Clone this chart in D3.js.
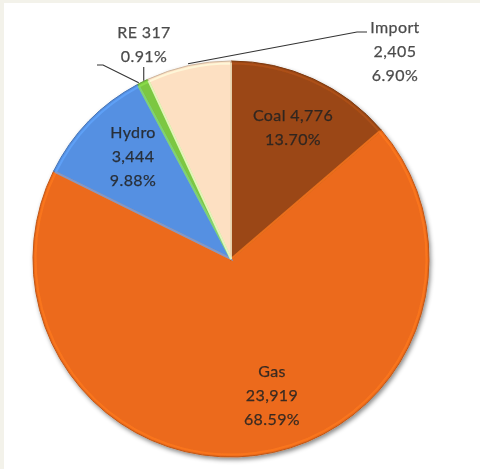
<!DOCTYPE html>
<html>
<head>
<meta charset="utf-8">
<script src="https://cdn.jsdelivr.net/npm/d3@7"></script>
<style>
  html, body { margin: 0; padding: 0; background: #ffffff; }
  svg { display: block; }
  text { font-family: Lato, "Open Sans", sans-serif; }
</style>
</head>
<body>
<svg id="chart" width="480" height="469"></svg>
<script>
// Generation mix (MW)
const categories = ["Coal", "Gas", "Hydro", "RE", "Import"];
const values = [4776, 23919, 3444, 317, 2405];
const percentLabels = ["13.70%", "68.59%", "9.88%", "0.91%", "6.90%"];
const colors = ["#9b4714", "#ec6a1a", "#5590e2", "#7cc742", "#fde0c2"];

const W = 480, H = 469;
const cx = 231, cy = 259, R = 198;

const svg = d3.select("#chart");

// light frame along top and left edges
svg.append("rect").attr("x", 0).attr("y", 0).attr("width", W).attr("height", 3).attr("fill", "#f3f2ea");
svg.append("rect").attr("x", 0).attr("y", 0).attr("width", 4).attr("height", H).attr("fill", "#f3f2ea");

const defs = svg.append("defs");
const shadow = defs.append("filter").attr("id", "shadow")
  .attr("x", "-10%").attr("y", "-10%").attr("width", "120%").attr("height", "120%");
shadow.append("feDropShadow")
  .attr("dx", 1.5).attr("dy", 2.5).attr("stdDeviation", 2.2)
  .attr("flood-color", "#000").attr("flood-opacity", 0.45);

const soft = defs.append("filter").attr("id", "soft");
soft.append("feGaussianBlur").attr("stdDeviation", 0.6);

const data = categories.map((c, i) => ({ name: c, value: values[i], pct: percentLabels[i], color: colors[i] }));

const pie = d3.pie().value(d => d.value).sort(null);
const arcs = pie(data);
const arc = d3.arc().innerRadius(0).outerRadius(R);
const innerArc = d3.arc().innerRadius(0).outerRadius(R - 2.5);

const g = svg.append("g").attr("transform", `translate(${cx},${cy})`);

// slices with drop shadow
const slices = g.append("g").attr("filter", "url(#shadow)");
slices.selectAll("path.slice")
  .data(arcs)
  .join("path")
  .attr("class", "slice")
  .attr("d", arc)
  .attr("fill", d => d.data.color)
  .attr("stroke", d => d3.color(d.data.color).darker(0.6))
  .attr("stroke-width", 1);

// bevel highlight along slice edges
g.append("g").attr("filter", "url(#soft)")
  .selectAll("path.bevel")
  .data(arcs)
  .join("path")
  .attr("class", "bevel")
  .attr("d", innerArc)
  .attr("fill", "none")
  .attr("stroke", d => d3.color(d.data.color).brighter(0.4))
  .attr("stroke-opacity", 0.7)
  .attr("stroke-width", 2);

// label placement (pixel offsets from the pie centre)
const labelPos = {
  Coal:   { x: 62,  y: -144, outside: false },
  Gas:    { x: 41,  y: 112,  outside: false },
  Hydro:  { x: -98, y: -127, outside: false },
  RE:     { x: -87, y: -227, outside: true },
  Import: { x: 164, y: -232, outside: true }
};
const lineGap = 24;
const fmt = d3.format(",");

arcs.forEach(a => {
  const d = a.data;
  const p = labelPos[d.name];
  let lines;
  if (d.name === "Coal" || d.name === "RE") lines = [`${d.name} ${fmt(d.value)}`, d.pct];
  else lines = [d.name, fmt(d.value), d.pct];
  const col = p.outside ? "#333" : "#222";
  const t = g.append("text")
    .attr("x", p.x).attr("y", p.y)
    .attr("text-anchor", "middle")
    .attr("font-size", 16)
    .attr("letter-spacing", 0.4)
    .attr("fill", col)
    .attr("stroke", col)
    .attr("stroke-width", 0.25)
    .attr("opacity", 0.88);
  lines.forEach((s, i) => {
    t.append("tspan").attr("x", p.x).attr("y", p.y + i * lineGap + 5.5).text(s);
  });
});

// leader lines for the outside labels
const edgePoint = (a, frac, r) => {
  const ang = a.startAngle + (a.endAngle - a.startAngle) * frac;
  return [Math.sin(ang) * r, -Math.cos(ang) * r];
};
const imp = arcs.find(a => a.data.name === "Import");
const re = arcs.find(a => a.data.name === "RE");
const ip = edgePoint(imp, 0.5, R + 2);
const rp = edgePoint(re, 0.5, R);
const line = d3.line();

g.append("path")
  .attr("d", line([ip, [126, -227], [136, -227]]))
  .attr("fill", "none").attr("stroke", "#333").attr("stroke-width", 1.1);
g.append("path")
  .attr("d", line([[-134, -194], [-128, -194], [rp[0] - 4, rp[1] + 1]]))
  .attr("fill", "none").attr("stroke", "#333").attr("stroke-width", 1.1);
g.append("path")
  .attr("d", line([[rp[0] + 1, -192], [rp[0] + 1, rp[1] - 1]]))
  .attr("fill", "none").attr("stroke", "#333").attr("stroke-width", 1.1);
</script>
</body>
</html>
